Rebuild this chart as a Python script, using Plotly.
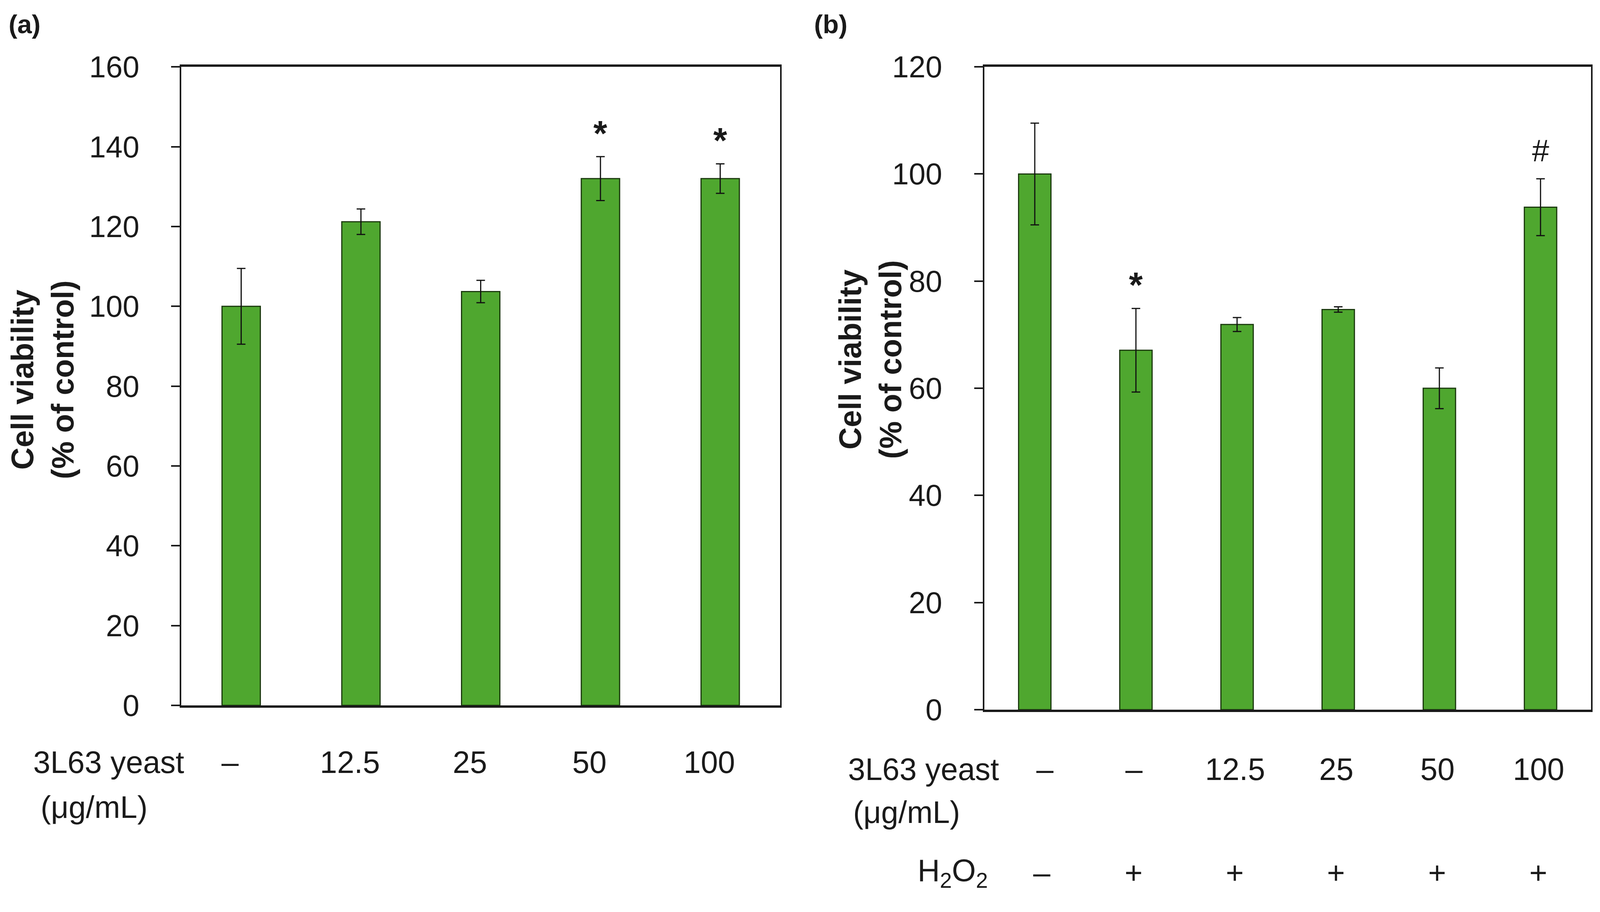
import plotly.graph_objects as go

FONT = "Liberation Sans, Arial, sans-serif"
BAR_COLOR = "#4FA72F"
BAR_EDGE = "#1B3A0E"
AXIS_COLOR = "#1a1a1a"

# the page comes out ~1% larger than the css size, so layout is done in
# picture pixels and divided back by this factor
SCALE = 1.0105
FIG_W = round(4142 / SCALE) - 16
FIG_H = round(2335 / SCALE) - 16

# panel (a): yeast alone
conc_a = ["–", "12.5", "25", "50", "100"]
viab_a = [100.0, 121.2, 103.7, 132.0, 132.0]
err_a = [9.5, 3.2, 2.8, 5.5, 3.7]
sig_a = ["", "", "", "*", "*"]

# panel (b): yeast + H2O2
conc_b = ["–", "–", "12.5", "25", "50", "100"]
h2o2_b = ["–", "+", "+", "+", "+", "+"]
viab_b = [100.0, 67.1, 71.9, 74.7, 60.0, 93.8]
err_b = [9.5, 7.8, 1.3, 0.5, 3.8, 5.3]
sig_b = ["", "*", "", "", "", "#"]

Y_TICKS_A = [0, 20, 40, 60, 80, 100, 120, 140, 160]
Y_TICKS_B = [0, 20, 40, 60, 80, 100, 120]
Y_TITLE = "<b>Cell viability<br>(% of control)</b>"


def px_x(x):
    return (x / SCALE - 8) / FIG_W


def px_y(y):
    return 1 - (y / SCALE - 8) / FIG_H


def bar_trace(values, errors, xaxis, yaxis):
    return go.Bar(x=list(range(len(values))), y=values, width=0.32,
                  marker=dict(color=BAR_COLOR, line=dict(color=BAR_EDGE, width=3)),
                  error_y=dict(type="data", array=errors, visible=True,
                               color="#111111", thickness=3, width=11),
                  xaxis=xaxis, yaxis=yaxis, showlegend=False, hoverinfo="skip")


fig = go.Figure()
fig.add_trace(bar_trace(viab_a, err_a, "x", "y"))
fig.add_trace(bar_trace(viab_b, err_b, "x2", "y2"))

x_common = dict(showline=True, linecolor=AXIS_COLOR, linewidth=6, mirror=True,
                showgrid=False, zeroline=False, showticklabels=False, ticks="",
                automargin=False)
y_common = dict(showline=True, linecolor=AXIS_COLOR, linewidth=4, mirror=True,
                showgrid=False, zeroline=False, ticks="outside", ticklen=22,
                tickwidth=4, tickcolor=AXIS_COLOR, ticklabelstandoff=66,
                tickfont=dict(family=FONT, size=77, color=AXIS_COLOR),
                automargin=False)

fig.update_layout(
    width=FIG_W, height=FIG_H,
    margin=dict(l=0, r=0, t=0, b=0, pad=0, autoexpand=False),
    paper_bgcolor="white", plot_bgcolor="white",
    showlegend=False,
    xaxis=dict(domain=[px_x(469), px_x(2018)], range=[-0.5, len(viab_a) - 0.5], anchor="y", **x_common),
    yaxis=dict(domain=[px_y(1825), px_y(173)], range=[0, 160], tickvals=Y_TICKS_A, anchor="x", **y_common),
    xaxis2=dict(domain=[px_x(2546), px_x(4116)], range=[-0.5, len(viab_b) - 0.5], anchor="y2", **x_common),
    yaxis2=dict(domain=[px_y(1836), px_y(173)], range=[0, 120], tickvals=Y_TICKS_B, anchor="x2", **y_common),
)

annotations = []


def text(x, y, s, size=79, xref="paper", yref="paper", bold=False, **kw):
    if bold:
        s = f"<b>{s}</b>"
    kw.setdefault("xanchor", "center")
    kw.setdefault("yanchor", "middle")
    annotations.append(dict(x=x, y=y, xref=xref, yref=yref, text=s, showarrow=False,
                            font=dict(family=FONT, size=size, color=AXIS_COLOR), **kw))


# panel letters
text(px_x(20), px_y(62), "(a)", size=67, bold=True, xanchor="left")
text(px_x(2104), px_y(62), "(b)", size=67, bold=True, xanchor="left")

# y axis titles
text(px_x(110), px_y(982), Y_TITLE, size=79, textangle=-90)
text(px_x(2252), px_y(930), Y_TITLE, size=79, textangle=-90)

# significance marks above the error bars
for i, s in enumerate(sig_a):
    if s:
        text(i, viab_a[i] + err_a[i], s, size=91, xref="x", yref="y", bold=True, yshift=60)
for i, s in enumerate(sig_b):
    if s == "#":
        text(i, viab_b[i] + err_b[i], s, size=79, xref="x2", yref="y2", yshift=72)
    elif s:
        text(i, viab_b[i] + err_b[i], s, size=91, xref="x2", yref="y2", bold=True, yshift=60)

# row labels under panel (a)
text(px_x(281), px_y(1972), "3L63 yeast")
text(px_x(244), px_y(2088), "(μg/mL)")
for i, c in enumerate(conc_a):
    text(i, px_y(1972), c, xref="x", xshift=-28)

# row labels under panel (b); the first column sits a bit right of its bar
text(px_x(2389), px_y(1990), "3L63 yeast")
text(px_x(2345), px_y(2101), "(μg/mL)")
text(px_x(2465), px_y(2258), "H<sub>2</sub>O<sub>2</sub>")
for i, c in enumerate(conc_b):
    text(i, px_y(1990), c, xref="x2", xshift=26 if i == 0 else -5)
for i, h in enumerate(h2o2_b):
    text(i, px_y(2258), h, xref="x2", xshift=18 if i == 0 else -6)

fig.update_layout(annotations=annotations)

fig.write_html("out.html", config={"displayModeBar": False})
